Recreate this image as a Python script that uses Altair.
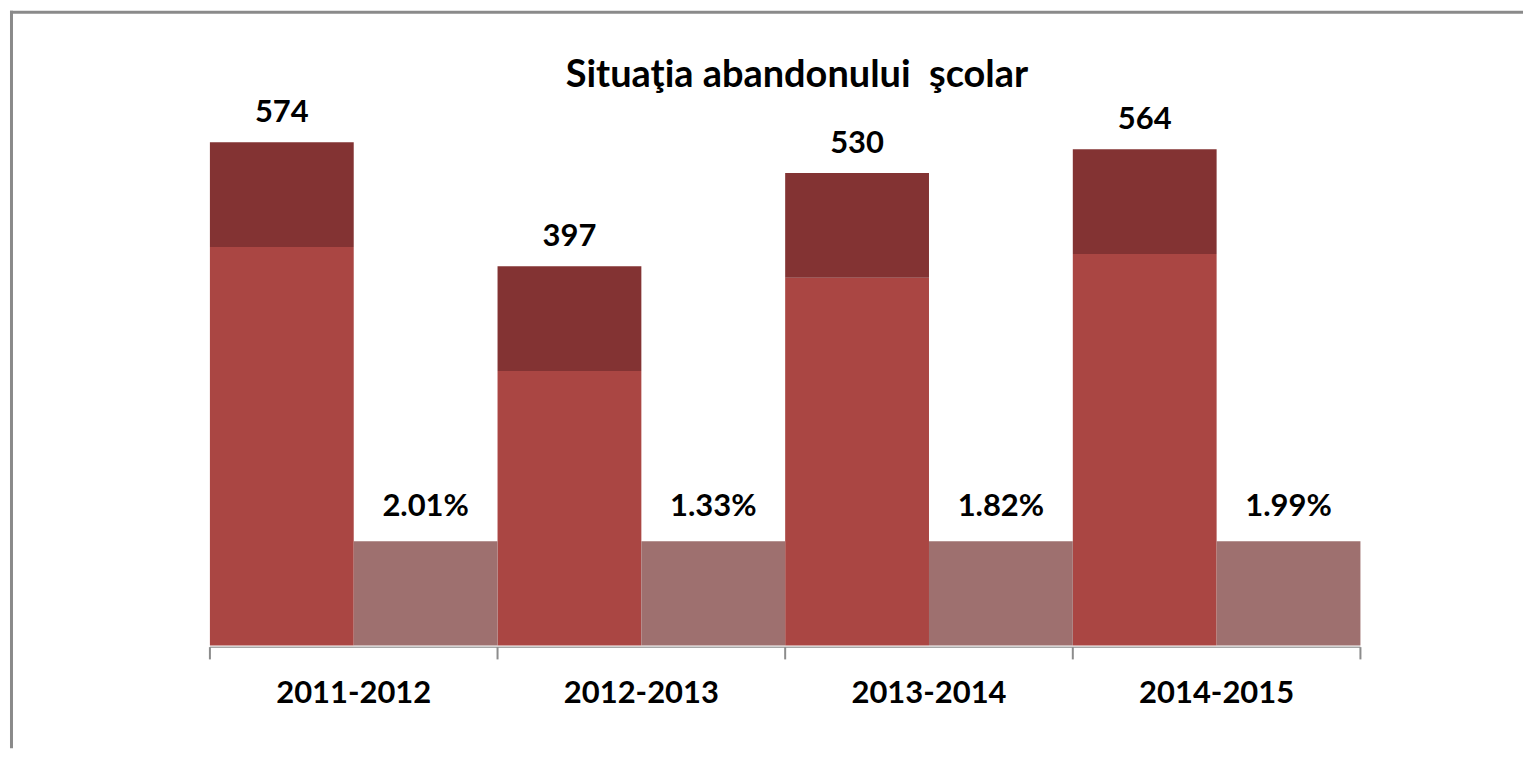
import altair as alt
import pandas as pd

# ---- data ----
categories = ["2011-2012", "2012-2013", "2013-2014", "2014-2015"]
totals = [574, 397, 530, 564]
percents = [2.01, 1.33, 1.82, 1.99]
title_text = "Situaţia abandonului\u00a0 şcolar"

# ---- geometry / styling constants (not data) ----
W, H = 1517, 740
X_DOMAIN = [-0.6985, 4.5652]
Y_DOMAIN = [-290.8, 762.9]
FLOOR = -144.0      # bottom of all blocks
GREY_TOP = 4.4      # top of grey blocks
CAP = 149.5         # height of the dark top segment
AXIS_Y = -146.5
TICK_END = -164.0
CATLABEL_Y = -226.7
TITLE_X = 2.041
TITLE_Y = 653.3

LIGHT = "#AA4643"
DARK = "#833333"
GREY = "#9E706F"
FONT = "Lato"

df = pd.DataFrame({
    "cat": categories,
    "total": totals,
    "pct": percents,
})
df["i"] = range(len(df))
df["x0"] = df["i"]
df["xm"] = df["i"] + 0.5
df["x1"] = df["i"] + 1.0
df["xc_bar"] = df["i"] + 0.25
df["xc_grey"] = df["i"] + 0.75
df["floor"] = FLOOR
df["grey_top"] = GREY_TOP
df["split"] = df["total"] - CAP
df["pct_label"] = df["pct"].map(lambda v: f"{v:.2f}%")
df["cat_y"] = CATLABEL_Y

ticks = pd.DataFrame({"t": list(range(len(categories) + 1))})
ticks["y0"] = AXIS_Y
ticks["y1"] = TICK_END

xs = alt.Scale(domain=X_DOMAIN, nice=False, zero=False)
ys = alt.Scale(domain=Y_DOMAIN, nice=False, zero=False)

def X(f):
    return alt.X(f, type="quantitative", scale=xs, axis=None)

def Y(f):
    return alt.Y(f, type="quantitative", scale=ys, axis=None)

base = alt.Chart(df)

light = base.mark_rect(color=LIGHT).encode(
    x=X("x0"), x2="xm", y=Y("floor"), y2="split"
)
dark = base.mark_rect(color=DARK).encode(
    x=X("x0"), x2="xm", y=Y("split"), y2="total"
)
grey = base.mark_rect(color=GREY).encode(
    x=X("xm"), x2="x1", y=Y("floor"), y2="grey_top"
)

axis_line = alt.Chart(pd.DataFrame({"a": [0], "b": [len(categories)], "y": [AXIS_Y]})).mark_rule(
    color="#A6A6A6", strokeWidth=1.5
).encode(x=X("a"), x2="b", y=Y("y"))

tick_rules = alt.Chart(ticks).mark_rule(color="#8C8C8C", strokeWidth=2).encode(
    x=X("t"), y=Y("y0"), y2="y1"
)

total_labels = base.mark_text(
    font=FONT, fontWeight="bold", fontSize=31, color="#000000",
    baseline="alphabetic", align="center", dy=-20
).encode(x=X("xc_bar"), y=Y("total"), text="total:N")

pct_labels = base.mark_text(
    font=FONT, fontWeight="bold", fontSize=31, color="#000000",
    baseline="alphabetic", align="center", dy=-25
).encode(x=X("xc_grey"), y=Y("grey_top"), text="pct_label:N")

cat_labels = base.mark_text(
    font=FONT, fontWeight="bold", fontSize=31, color="#000000",
    baseline="alphabetic", align="center"
).encode(x=X("xm"), y=Y("cat_y"), text="cat:N")

title = alt.Chart(pd.DataFrame({"x": [TITLE_X], "y": [TITLE_Y], "t": [title_text]})).mark_text(
    font=FONT, fontWeight="bold", fontSize=38, color="#000000",
    baseline="alphabetic", align="center"
).encode(x=X("x"), y=Y("y"), text="t:N")

frame_src = pd.DataFrame({"k": [0]})
frame_top = alt.Chart(frame_src).mark_rule(color="#8A8A8A", strokeWidth=3).encode(
    x=alt.value(1), x2=alt.value(W), y=alt.value(2.5)
)
frame_left = alt.Chart(frame_src).mark_rule(color="#8A8A8A", strokeWidth=3).encode(
    x=alt.value(2.5), y=alt.value(1), y2=alt.value(H)
)

chart = alt.layer(
    light, dark, grey, axis_line, tick_rules,
    total_labels, pct_labels, cat_labels, title,
    frame_top, frame_left,
).properties(
    width=W, height=H, padding=0, background="#FFFFFF"
).configure_view(stroke=None)

chart.save("out.html", embed_options={"renderer": "svg", "actions": False})
